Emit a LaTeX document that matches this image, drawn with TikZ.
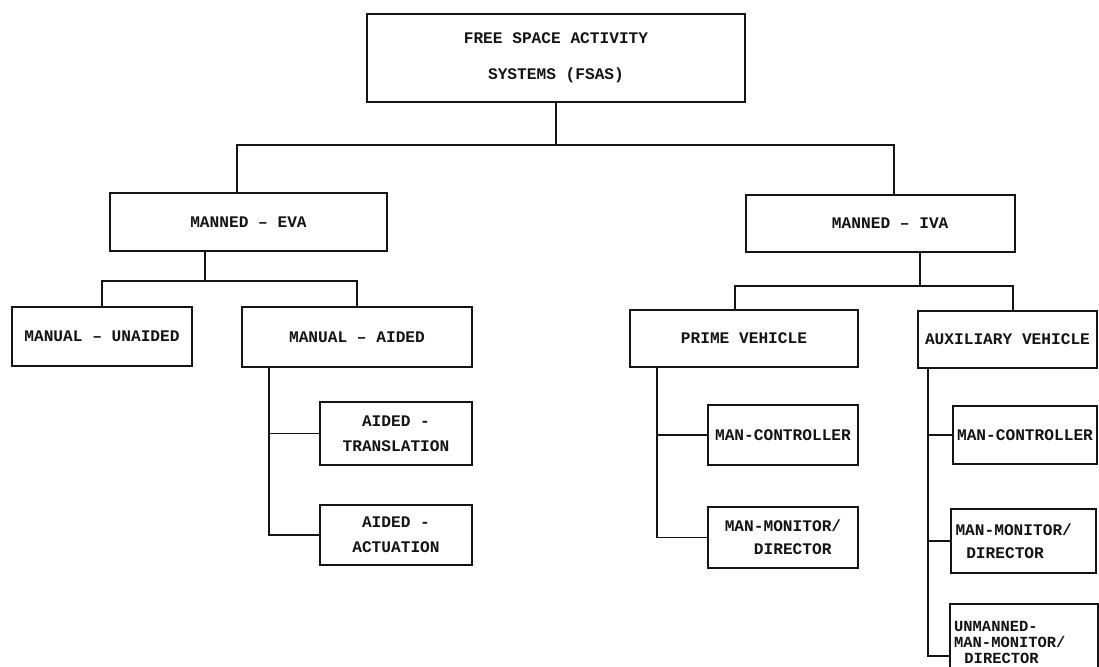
\documentclass[tikz,border=0pt]{standalone}
\usepackage{fontspec}
\setmonofont{Liberation Mono}
\usepackage{xcolor}
\usepackage{tikz}
\usetikzlibrary{positioning,calc}
\definecolor{InkBlack}{RGB}{20, 20, 20}

\begin{document}
\begin{tikzpicture}[
  every node/.style={font=\fontsize{11.5}{13.5}\selectfont\ttfamily\bfseries, text=InkBlack},
  blk/.style={rectangle, draw=InkBlack, line width=1.3pt, fill=white, align=center, inner sep=2pt},
  leftblk/.style={blk, align=left, inner xsep=3pt},
  conn/.style={line width=1.1pt, draw=InkBlack}
]
\useasboundingbox (0,0) rectangle (27.475,-16.65);

\node[blk, minimum width=9.45cm, minimum height=2.2cm] (fsas) at (13.9, -1.45) {FREE SPACE ACTIVITY\\[4.2mm]SYSTEMS (FSAS)};

\node[blk, minimum width=6.925cm, minimum height=1.45cm] (eva) at (6.2125, -5.55) {MANNED – EVA};
\node[blk, minimum width=6.725cm, minimum height=1.425cm] (iva) at (22.0125, -5.5875) {\ \ MANNED – IVA};

\node[blk, minimum width=4.5cm, minimum height=1.475cm] (unaided) at (2.55, -8.4125) {MANUAL – UNAIDED};
\node[blk, minimum width=5.75cm, minimum height=1.5cm] (aided) at (8.925, -8.425) {MANUAL – AIDED};
\node[blk, minimum width=3.8cm, minimum height=1.575cm] (transl) at (9.9, -10.8375) {AIDED -\\[1.5mm]TRANSLATION};
\node[blk, minimum width=3.8cm, minimum height=1.5cm] (actua) at (9.9, -13.375) {AIDED -\\[1.5mm]ACTUATION};

\node[blk, minimum width=5.7cm, minimum height=1.425cm] (prime) at (18.6, -8.4625) {PRIME VEHICLE};
\node[blk, minimum width=3.75cm, minimum height=1.5cm] (pctrl) at (19.575, -10.875) {MAN-CONTROLLER};
\node[blk, minimum width=3.75cm, minimum height=1.525cm] (pmon) at (19.575, -13.4375) {MAN-MONITOR/\\[1mm]\ \ DIRECTOR};

\node[leftblk, minimum width=4.475cm, minimum height=1.425cm] (aux) at (25.1875, -8.4875) {AUXILIARY VEHICLE};
\node[leftblk, minimum width=3.6cm, minimum height=1.45cm] (actrl) at (25.625, -10.875) {MAN-CONTROLLER};
\node[leftblk, text width=3.4cm, minimum height=1.6cm] (amon) at (25.5875, -13.525) {MAN-MONITOR/\\[1mm]\ \ DIRECTOR};
\node[leftblk, text width=3.5cm, minimum height=1.925cm, anchor=north west, inner ysep=2pt,
  font=\fontsize{11}{11.5}\selectfont\ttfamily\bfseries] (unman) at (23.725, -15.075) {UNMANNED-\\MAN-MONITOR/\\\ \ DIRECTOR};

% top level
\draw[conn] (fsas.south) -- ++(0,-1.05) coordinate (b0);
\draw[conn] ([xshift=-2.9mm]eva.north) |- (b0) -| ([xshift=3.4mm]iva.north);

% EVA branch
\draw[conn] ([xshift=-10.9mm]eva.south) -- ++(0,-0.725) coordinate (b1);
\draw[conn] (unaided.north) |- (b1) -| (aided.north);
\coordinate (t1) at ([xshift=7mm]aided.south west);
\draw[conn] (t1) |- (actua.west);
\draw[conn] (transl.west) -- (transl.west -| t1);

% IVA branch
\draw[conn] ([xshift=9.9mm]iva.south) -- ++(0,-0.825) coordinate (b2);
\draw[conn] ([xshift=-2.3mm]prime.north) |- (b2) -| ([xshift=1.4mm]aux.north);
\coordinate (t2) at ([xshift=7mm]prime.south west);
\draw[conn] (t2) |- (pmon.west);
\draw[conn] (pctrl.west) -- (pctrl.west -| t2);
\coordinate (t3) at ([xshift=2.75mm]aux.south west);
\draw[conn] (t3) |- ([yshift=-3.4mm]unman.west);
\draw[conn] (actrl.west) -- (actrl.west -| t3);
\draw[conn] (amon.west) -- (amon.west -| t3);
\end{tikzpicture}
\end{document}
